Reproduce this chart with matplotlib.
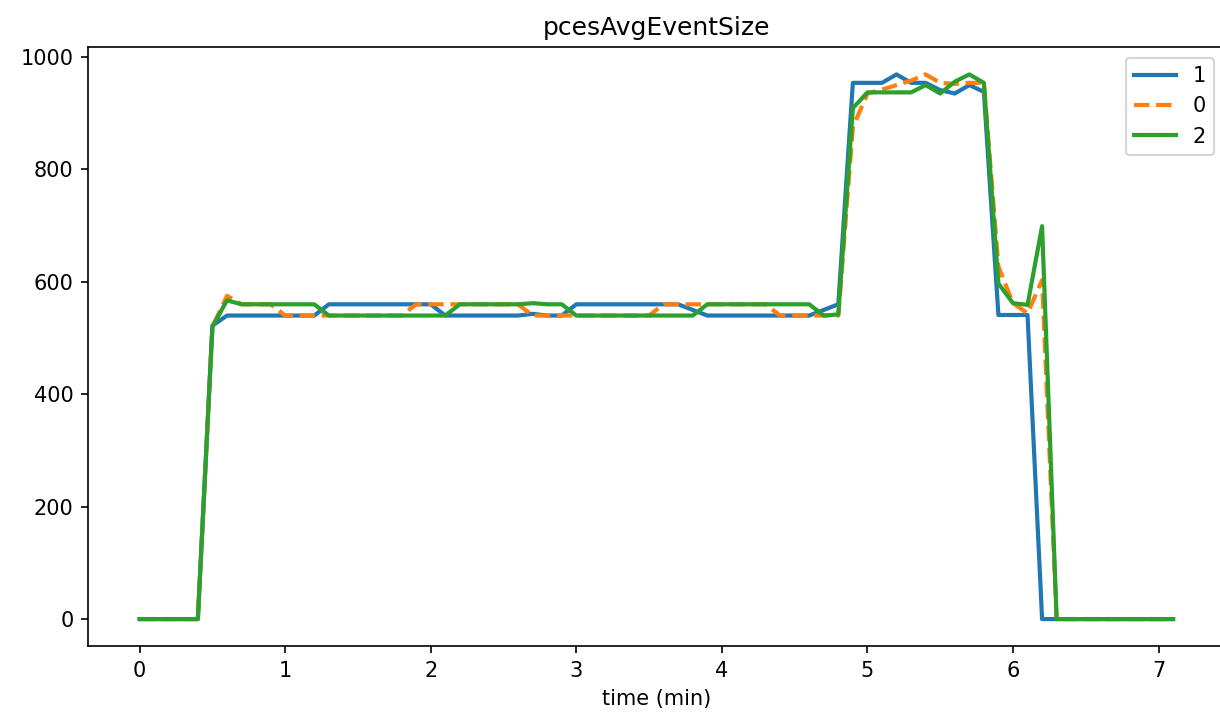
import matplotlib.pyplot as plt

time_min = [
    0.0, 0.1, 0.2, 0.3, 0.4, 0.5, 0.6, 0.7, 0.8, 0.9,
    1.0, 1.1, 1.2, 1.3, 1.4, 1.5, 1.6, 1.7, 1.8, 1.9,
    2.0, 2.1, 2.2, 2.3, 2.4, 2.5, 2.6, 2.7, 2.8, 2.9,
    3.0, 3.1, 3.2, 3.3, 3.4, 3.5, 3.6, 3.7, 3.8, 3.9,
    4.0, 4.1, 4.2, 4.3, 4.4, 4.5, 4.6, 4.7, 4.8, 4.9,
    5.0, 5.1, 5.2, 5.3, 5.4, 5.5, 5.6, 5.7, 5.8, 5.9,
    6.0, 6.1, 6.2, 6.3, 6.4, 6.5, 6.6, 6.7, 6.8, 6.9,
    7.0, 7.1,
]

# series "1"
size_1 = [
    0, 0, 0, 0, 0, 522, 540, 540, 540, 540,
    540, 540, 540, 560, 560, 560, 560, 560, 560, 560,
    560, 540, 540, 540, 540, 540, 540, 543, 540, 540,
    560, 560, 560, 560, 560, 560, 560, 560, 550, 540,
    540, 540, 540, 540, 540, 540, 540, 550, 560, 954,
    954, 954, 969, 954, 954, 941, 935, 950, 938, 541,
    541, 541, 0, 0, 0, 0, 0, 0, 0, 0,
    0, 0,
]

# series "0"
size_0 = [
    0, 0, 0, 0, 0, 520, 575, 560, 560, 560,
    540, 540, 540, 540, 540, 540, 540, 540, 540, 560,
    560, 560, 560, 560, 560, 560, 560, 540, 540, 540,
    540, 540, 540, 540, 540, 540, 560, 560, 560, 560,
    560, 560, 560, 560, 540, 540, 540, 540, 540, 875,
    935, 942, 950, 958, 969, 954, 952, 954, 954, 627,
    562, 544, 603, 0, 0, 0, 0, 0, 0, 0,
    0, 0,
]

# series "2"
size_2 = [
    0, 0, 0, 0, 0, 520, 567, 560, 560, 560,
    560, 560, 560, 540, 540, 540, 540, 540, 540, 540,
    540, 540, 560, 560, 560, 560, 560, 562, 560, 560,
    540, 540, 540, 540, 540, 540, 540, 540, 540, 560,
    560, 560, 560, 560, 560, 560, 560, 540, 542, 909,
    937, 937, 937, 937, 950, 935, 956, 969, 954, 597,
    562, 559, 699, 0, 0, 0, 0, 0, 0, 0,
    0, 0,
]


def plot_event_size():
    fig, ax = plt.subplots(figsize=(1220 / 150, 717 / 150), dpi=150)
    fig.subplots_adjust(left=0.0721, right=1.0039, bottom=0.0986, top=0.9342)

    ax.plot(time_min, size_1, color="#1f77b4", lw=2, label="1")
    ax.plot(time_min, size_0, color="#ff7f0e", lw=2, linestyle="--", label="0")
    ax.plot(time_min, size_2, color="#2ca02c", lw=2, label="2")

    ax.set_title("pcesAvgEventSize")
    ax.set_xlabel("time (min)")
    ax.legend(loc="upper right")

    fig.savefig("out.png", dpi=150)


if __name__ == "__main__":
    plot_event_size()
